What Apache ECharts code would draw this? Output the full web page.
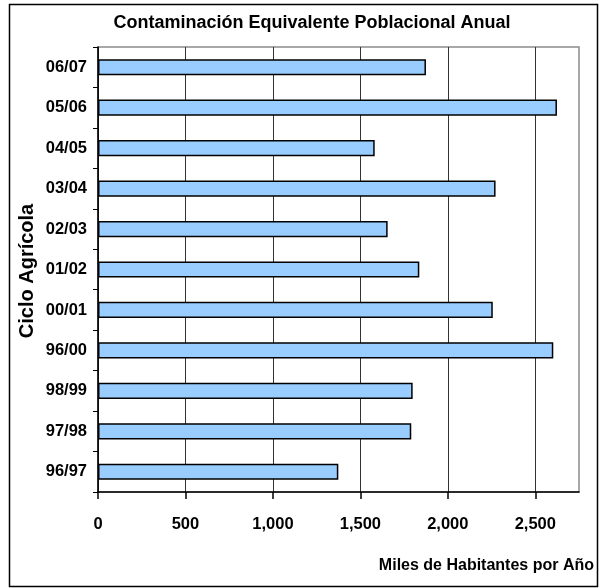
<!DOCTYPE html>
<html>
<head>
<meta charset="utf-8">
<script src="https://cdn.jsdelivr.net/npm/echarts@6/dist/echarts.min.js"></script>
<style>
  html, body { margin: 0; padding: 0; background: #fff; }
  #chart { width: 600px; height: 588px; }
</style>
</head>
<body>
<div id="chart"></div>
<script>
// Agricultural cycles, bottom to top as drawn on the category axis
const ciclos = ['96/97', '97/98', '98/99', '96/00', '00/01', '01/02', '02/03', '03/04', '04/05', '05/06', '06/07'];
// Equivalent population contamination, thousands of inhabitants per year
const habitantes = [1374, 1791, 1799, 2603, 2257, 1837, 1656, 2273, 1582, 2624, 1875];
// Value-axis ticks
const ticksX = [0, 500, 1000, 1500, 2000, 2500];
const maxX = 2750;

const FONT = '"Liberation Sans", Arial, sans-serif';
const fmt = v => v.toLocaleString('en-US');

const chart = echarts.init(document.getElementById('chart'), null, { renderer: 'canvas' });

chart.setOption({
  backgroundColor: '#fff',
  animation: false,
  title: {
    text: 'Contaminación Equivalente Poblacional Anual',
    left: 307, textAlign: 'center',
    top: 9,
    textStyle: { fontFamily: FONT, fontWeight: 'bold', fontSize: 18, color: '#000' }
  },
  grid: {
    left: 98, right: 21, top: 47, bottom: 96,
    show: true, backgroundColor: '#fff', borderColor: '#8c8c8c', borderWidth: 1.5,
    containLabel: false
  },
  xAxis: {
    type: 'value',
    min: 0, max: maxX, interval: 500,
    axisLine: { show: true, lineStyle: { color: '#000', width: 1.5 } },
    axisTick: { show: true, length: 7, customValues: ticksX, lineStyle: { color: '#000', width: 1.5 } },
    axisLabel: {
      customValues: ticksX, formatter: fmt, margin: 24,
      fontFamily: FONT, fontWeight: 'bold', fontSize: 16.5, color: '#000'
    },
    splitLine: {
      show: true,
      lineStyle: { color: ['#333', '#333', '#333', '#333', '#333', '#333', 'rgba(0,0,0,0)'], width: 1 }
    }
  },
  yAxis: {
    type: 'category',
    data: ciclos,
    axisLine: { show: true, lineStyle: { color: '#000', width: 1.5 } },
    axisTick: { show: true, length: 5, alignWithLabel: false, lineStyle: { color: '#000', width: 1 } },
    axisLabel: { margin: 11, fontFamily: FONT, fontWeight: 'bold', fontSize: 16.5, color: '#000' },
    splitLine: { show: false }
  },
  series: [{
    type: 'bar',
    data: habitantes,
    barWidth: '40%',
    itemStyle: { color: '#99ccff', borderColor: '#000', borderWidth: 1.5 },
    silent: true
  }],
  graphic: [
    {
      type: 'rect',
      shape: { x: 9.5, y: 4.5, width: 588, height: 582 },
      style: { fill: null, stroke: '#000', lineWidth: 1.5 },
      silent: true, z: 100
    },
    {
      type: 'text',
      x: 27, y: 271, rotation: Math.PI / 2,
      style: {
        text: 'Ciclo Agrícola', align: 'center', verticalAlign: 'middle',
        font: 'bold 20px ' + FONT, fill: '#000'
      }
    },
    {
      type: 'text',
      x: 594, y: 566,
      style: {
        text: 'Miles de Habitantes por Año', align: 'right', verticalAlign: 'middle',
        font: 'bold 16px ' + FONT, fill: '#000'
      }
    }
  ]
});
</script>
</body>
</html>
